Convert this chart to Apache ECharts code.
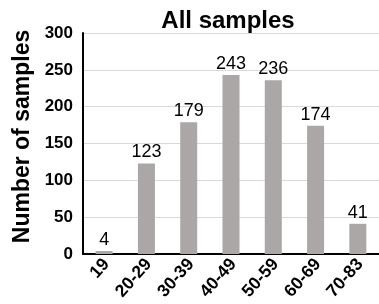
<!DOCTYPE html>
<html>
<head>
<meta charset="utf-8">
<script src="https://cdn.jsdelivr.net/npm/echarts@6/dist/echarts.min.js"></script>
<style>
  html, body { margin: 0; padding: 0; background: #fff; }
  #chart { width: 379px; height: 304px; }
</style>
</head>
<body>
<div id="chart"></div>
<script>
// age groups and counts
const ageGroups = ['19', '20-29', '30-39', '40-49', '50-59', '60-69', '70-83'];
const sampleCounts = [4, 123, 179, 243, 236, 174, 41];
const yTicks = [0, 50, 100, 150, 200, 250, 300];

const chart = echarts.init(document.getElementById('chart'));
const option = {
    animation: false,
    title: {
        text: 'All samples',
        left: 223,
        top: 4,
        textAlign: 'center',
        textStyle: {
            fontFamily: 'Liberation Sans, Arial',
            fontSize: 24,
            fontWeight: 'bold',
            color: '#000'
        }
    },
    grid: {
        left: 83,
        right: 0,
        top: 33,
        bottom: 50
    },
    xAxis: {
        type: 'category',
        data: ageGroups,
        axisLine: { lineStyle: { color: '#000', width: 2 } },
        axisTick: { show: false },
        axisLabel: {
            rotate: 48,
            interval: 0,
            margin: 10,
            padding: [7, -3.5, 0, 0],
            fontFamily: 'Liberation Sans, Arial',
            fontSize: 17.5,
            fontWeight: 'bold',
            color: '#000'
        }
    },
    yAxis: {
        type: 'value',
        min: yTicks[0],
        max: yTicks[yTicks.length - 1],
        interval: 50,
        name: 'Number of samples',
        nameLocation: 'middle',
        nameGap: 48,
        nameTextStyle: {
            fontFamily: 'Liberation Sans, Arial',
            fontSize: 23,
            fontWeight: 'bold',
            color: '#000',
            padding: [0, 0, 0, 14]
        },
        axisLine: { show: true, lineStyle: { color: '#000', width: 2 } },
        axisTick: { show: false },
        splitLine: { lineStyle: { color: '#d9d9d9', width: 1 } },
        axisLabel: {
            margin: 10,
            fontFamily: 'Liberation Sans, Arial',
            fontSize: 17,
            fontWeight: 'bold',
            color: '#000'
        }
    },
    series: [
        {
            type: 'bar',
            data: sampleCounts,
            barWidth: 17,
            itemStyle: { color: '#aaa7a6' },
            label: {
                show: true,
                position: 'top',
                distance: 2,
                fontFamily: 'Liberation Sans, Arial',
                fontSize: 18,
                color: '#000'
            }
        }
    ]
};
chart.setOption(option);
</script>
</body>
</html>
